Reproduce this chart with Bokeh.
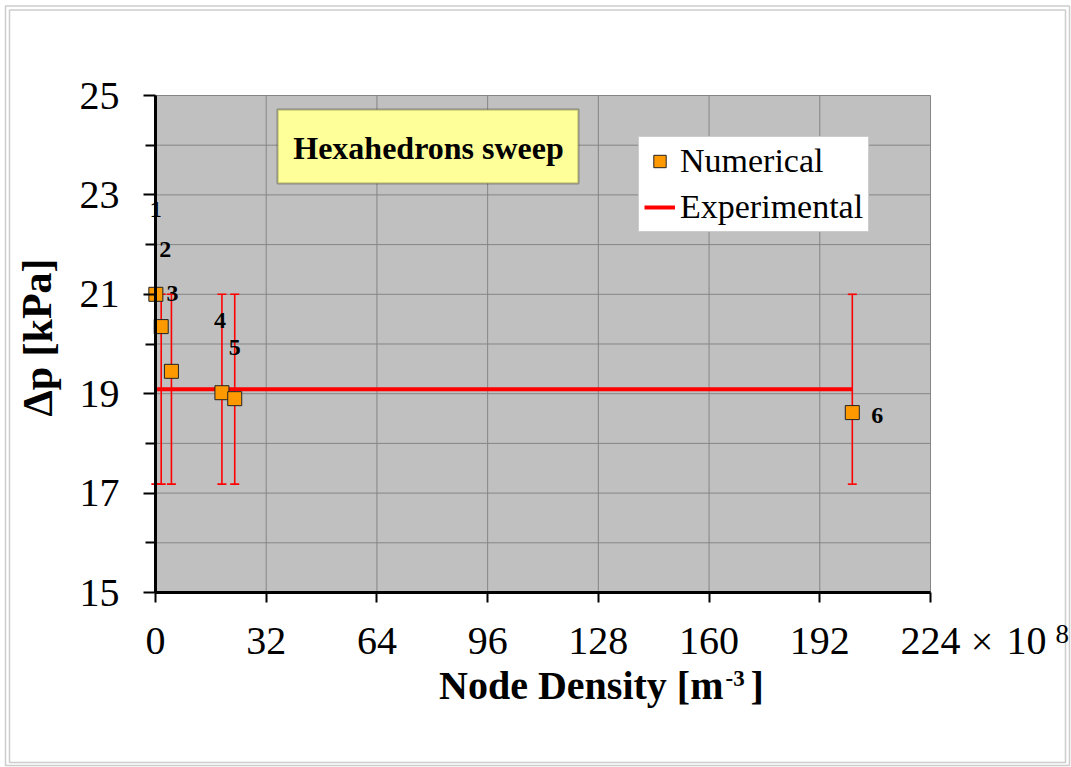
from bokeh.plotting import figure
from bokeh.models import (FixedTicker, Whisker, ColumnDataSource, LinearAxis,
                          Legend, LegendItem, Label, LabelSet, BoxAnnotation, TeeHead, Range1d)
from bokeh.core.properties import value
from bokeh.embed import file_html
from bokeh.resources import INLINE

# ---------------- data ----------------
node_density = [0.1, 1.65, 4.6, 19.2, 22.9, 201.4]      # x 10^8 m^-3
dp_numerical = [21.0, 20.35, 19.45, 19.02, 18.90, 18.62]  # kPa
case_labels = ["1", "2", "3", "4", "5", "6"]
exp_x = [0.0, 201.4]
dp_experimental = 19.09
exp_uncertainty = 1.91
x_ticks = [0, 32, 64, 96, 128, 160, 192, 224]
y_ticks = [15, 17, 19, 21, 23, 25]
y_minor = [16, 18, 20, 22, 24]
y_grid = [15, 16, 17, 18, 19, 20, 21, 22, 23, 24, 25]

# label placement (pixel offsets from each point)
label_dx = [0, 4, 1, -2, 0, 25]
label_dy = [85, 77, 78, 72, 51, -3]

W, H = 1071, 767
FL, FR, FT, FB = 155, 930, 95, 592
X0, X1 = 0, 224
Y0, Y1 = 15, 25
SX = (FR - FL) / (X1 - X0)
SY = (FB - FT) / (Y1 - Y0)
SERIF = "Liberation Serif"


def px2x(cx):
    return X0 + (cx - FL) / SX


def px2y(cy):
    return Y1 - (cy - FT) / SY


def text_label(cx, cy, text, size, bold=False, align="center", angle=0.0):
    return Label(x=px2x(cx), y=px2y(cy), text=text, angle=angle,
                 text_font=SERIF, text_font_style="bold" if bold else "normal",
                 text_font_size=size, text_align=align, text_baseline="middle",
                 text_color="black")


p = figure(width=W, height=H, output_backend="svg", toolbar_location=None,
           x_axis_type=None, y_axis_type=None,
           x_range=Range1d(px2x(0), px2x(W)), y_range=Range1d(px2y(H), px2y(0)),
           min_border_left=0, min_border_right=0, min_border_top=0, min_border_bottom=0)
p.background_fill_color = "white"
p.border_fill_color = "white"
p.outline_line_color = None

# plot area
p.add_layout(BoxAnnotation(left=X0, right=X1, bottom=Y0, top=Y1, fill_color="#C0C0C0",
                           fill_alpha=1, line_color=None, level="image"))

# grid lines
p.segment(x0=x_ticks, y0=[Y0] * len(x_ticks), x1=x_ticks, y1=[Y1] * len(x_ticks),
          line_color="#858585", line_width=1, level="underlay")
p.segment(x0=[X0] * len(y_grid), y0=y_grid, x1=[X1] * len(y_grid), y1=y_grid,
          line_color="#858585", line_width=1, level="underlay")

# axes
xaxis = LinearAxis(fixed_location=Y0, bounds=(X0, X1),
                   ticker=FixedTicker(ticks=x_ticks))
yaxis = LinearAxis(fixed_location=X0, bounds=(Y0, Y1),
                   ticker=FixedTicker(ticks=y_ticks, minor_ticks=y_minor))
for ax in (xaxis, yaxis):
    ax.axis_line_color = "black"
    ax.axis_line_width = 3
    ax.major_tick_line_color = "black"
    ax.major_tick_line_width = 2
    ax.major_tick_in = 0
    ax.minor_tick_in = 0
    ax.major_label_text_font = SERIF
    ax.major_label_text_font_size = "40px"
    ax.major_label_text_color = "black"
xaxis.major_tick_out = 10
xaxis.minor_tick_line_color = None
xaxis.major_label_standoff = 25
yaxis.major_tick_out = 12
yaxis.minor_tick_out = 10
yaxis.minor_tick_line_color = "black"
yaxis.minor_tick_line_width = 2
yaxis.major_label_standoff = 24
p.add_layout(xaxis, "below")
p.add_layout(yaxis, "left")

# outer double border
for l, r, t, b in [(5, 1069, 5.5, 765), (9, 1065, 9.5, 762)]:
    p.add_layout(BoxAnnotation(left=px2x(l), right=px2x(r), top=px2y(t), bottom=px2y(b),
                               fill_alpha=0, line_color="#5a5a5a", line_width=1.5))

# error bars
err_src = ColumnDataSource(dict(
    x=node_density,
    lower=[dp_experimental - exp_uncertainty] * len(node_density),
    upper=[dp_experimental + exp_uncertainty] * len(node_density)))
wh = Whisker(source=err_src, base="x", lower="lower", upper="upper", dimension="height",
             line_color="red", line_width=1.6, level="underlay",
             upper_head=TeeHead(size=9, line_color="red", line_width=1.6),
             lower_head=TeeHead(size=9, line_color="red", line_width=1.6))
p.add_layout(wh)

# experimental line
exp_line = p.line(exp_x, [dp_experimental] * len(exp_x), line_color="red", line_width=4)

# numerical points
src = ColumnDataSource(dict(x=node_density, y=dp_numerical, lab=case_labels,
                            dx=label_dx, dy=label_dy))
sq = p.scatter("x", "y", source=src, marker="square", size=14,
               fill_color="#FF9900", line_color="#222222", line_width=1)

p.add_layout(LabelSet(x="x", y="y", text="lab", source=src, x_offset="dx", y_offset="dy",
                      text_font=value(SERIF), text_font_style="bold",
                      text_font_size="24px", text_align="center", text_baseline="middle",
                      text_color="black"))

# legend
legend = Legend(items=[LegendItem(label="Numerical", renderers=[sq]),
                       LegendItem(label="Experimental", renderers=[exp_line])],
                location=(638, H - 232))
legend.label_text_font = SERIF
legend.label_text_font_size = "34px"
legend.label_text_color = "black"
legend.border_line_color = "#999999"
legend.border_line_width = 1
legend.background_fill_color = "white"
legend.background_fill_alpha = 1
legend.padding = 5
legend.spacing = 8
legend.margin = 0
legend.glyph_width = 31
legend.glyph_height = 36
legend.label_standoff = 5
p.add_layout(legend, "center")

# title box
p.add_layout(BoxAnnotation(left=px2x(277), right=px2x(578), top=px2y(109), bottom=px2y(183),
                           fill_color="#FFFF99", fill_alpha=1, line_color="black", line_width=2))
p.add_layout(text_label(428, 147, "Hexahedrons sweep", "32px", bold=True))

# axis titles
p.add_layout(text_label(723, 684.5, "Node Density [m", "40px", bold=True, align="right"))
p.add_layout(text_label(725, 678, "-3", "23px", bold=True, align="left"))
p.add_layout(text_label(750, 684.5, "]", "40px", bold=True, align="left"))
p.add_layout(text_label(37, 337, "Δp [kPa]", "42px", bold=True, angle=1.5708))

# axis multiplier
p.add_layout(text_label(981.5, 640.5, "×", "40px"))
p.add_layout(text_label(1026, 640.5, "10", "40px"))
p.add_layout(text_label(1055, 633, "8", "27px", align="left"))

open("out.html", "w").write(file_html(p, INLINE))
